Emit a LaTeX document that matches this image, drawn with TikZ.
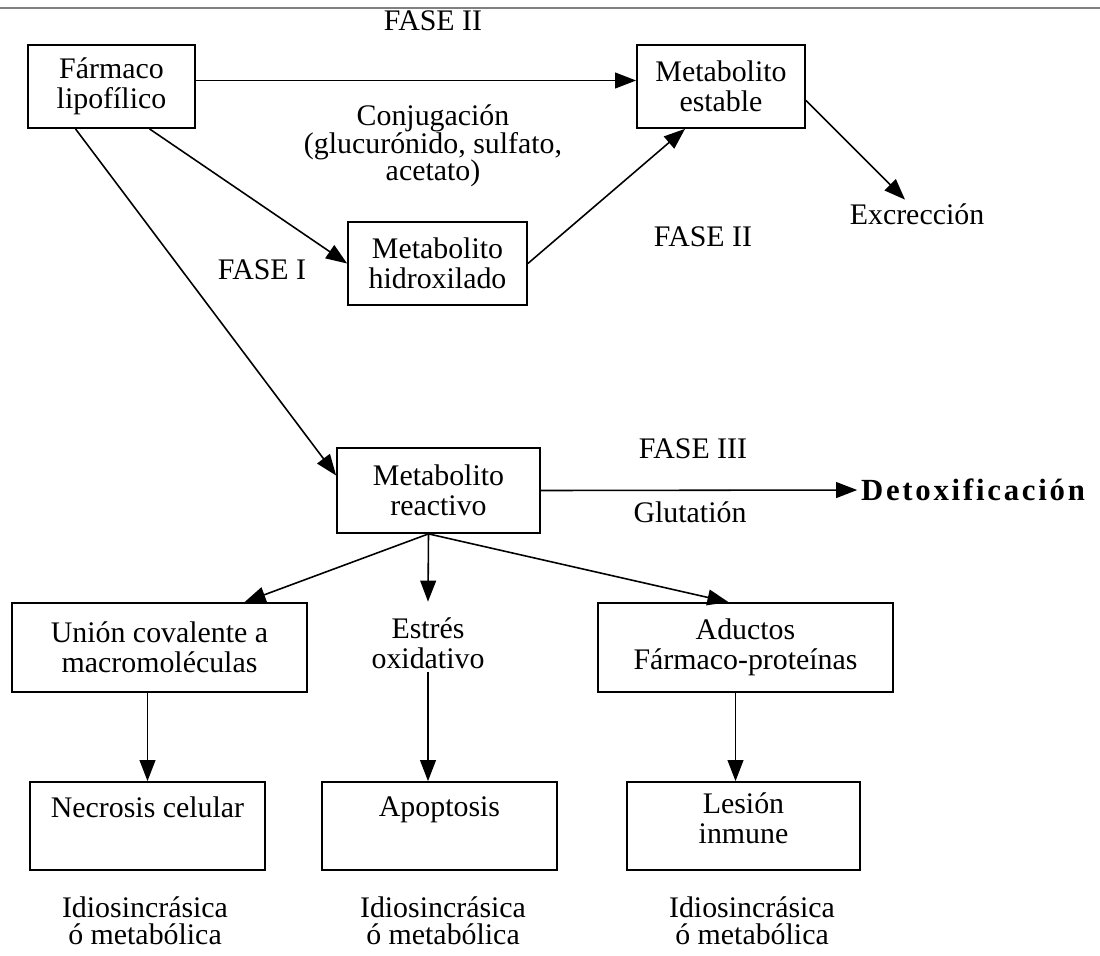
\documentclass[tikz,border=0pt]{standalone}
\usepackage{fontspec}
\setmainfont{Liberation Serif}
\usetikzlibrary{arrows.meta,positioning,calc}

\begin{document}
\begin{tikzpicture}[
    x=0.2mm, y=-0.2mm,
    font=\fontsize{17}{17}\selectfont,
    caja/.style={draw, line width=1pt, align=center, minimum height=16.6mm, inner sep=2pt},
    flecha/.style={-{Triangle[length=12pt,width=9pt]}, line width=0.9pt},
    texto/.style={align=center, inner sep=2pt}
]
\useasboundingbox (0,0) rectangle (1100,955);

% línea superior
\draw[gray, line width=1.2pt] (0,8) -- (1100,8);

% cajas
\node[caja, minimum width=33.4mm] (farmaco) at (111.5,86.5) {Fármaco\\lipofílico};
\node[caja, minimum width=33.6mm] (estable) at (721,86.5) {Metabolito\\estable};
\node[caja, minimum width=35.8mm] (hidroxilado) at (437.5,263.5) {Metabolito\\hidroxilado};
\node[caja, minimum width=40.6mm, minimum height=17mm] (reactivo) at (438.5,490.5) {Metabolito\\reactivo};
\node[caja, minimum width=59mm, minimum height=17.8mm] (union) at (159.5,647.5) {Unión covalente a\\macromoléculas};
\node[texto] (estres) at (428,643) {Estrés\\oxidativo};
\node[caja, minimum width=59mm, minimum height=17.8mm] (aductos) at (745.5,647.5) {Aductos\\Fármaco-proteínas};
\node[caja, minimum width=47mm, minimum height=17.6mm] (necrosis) at (147.5,826) {Necrosis celular\\[5pt]\mbox{}};
\node[caja, minimum width=47mm, minimum height=17.6mm] (apoptosis) at (439.5,826) {Apoptosis\\[5pt]\mbox{}};
\node[caja, minimum width=46.6mm, minimum height=17.6mm] (lesion) at (743.5,826) {Lesión\\inmune\\[-8pt]\mbox{}};

% etiquetas
\node[texto] (fase2a) at (433,21) {FASE II};
\node[texto, font=\fontsize{17}{15.8}\selectfont] (conjugacion) at (433,146) {Conjugación\\(glucurónido, sulfato,\\acetato)};
\node[texto] (fase1) at (262,270) {FASE I};
\node[texto] (fase2b) at (703,237) {FASE II};
\node[texto] (excrecion) at (917,214) {Excrección};
\node[texto] (fase3) at (693,449) {FASE III};
\node[texto] (glutation) at (690,512) {Glutatión};
\node[texto, font=\bfseries\fontsize{17.5}{17}\selectfont\addfontfeatures{LetterSpace=9}] (detox) at (973,490) {Detoxificación};
\node[texto, font=\fontsize{17}{15.5}\selectfont] (idio1) at (145,921) {Idiosincrásica\\ó metabólica};
\node[texto, font=\fontsize{17}{15.5}\selectfont] (idio2) at (443,921) {Idiosincrásica\\ó metabólica};
\node[texto, font=\fontsize{17}{15.5}\selectfont] (idio3) at (752,921) {Idiosincrásica\\ó metabólica};

% flechas superiores
\draw[flecha] ($(farmaco.east)+(0,-6)$) -- ($(estable.west)+(0,-6)$);
\draw[flecha] ($(farmaco.south)+(38,0)$) -- (hidroxilado.west);
\draw[flecha] (hidroxilado.east) -- ($(estable.south)+(-36,0)$);
\draw[flecha] ($(estable.east)+(0,14)$) -- ($(excrecion.north)+(-12,0)$);
\draw[flecha] ($(farmaco.south)+(-36,0)$) -- ($(reactivo.west)+(0,-15)$);
\draw[flecha] (reactivo.east) -- (detox.west);

% ramas del metabolito reactivo
\draw[flecha] ($(reactivo.south)+(-10,0)$) -- ($(union.north)+(85,0)$);
\draw[flecha] ($(reactivo.south)+(-10,0)$) -- ($(estres.north)+(0,-12)$);
\draw[flecha] ($(reactivo.south)+(-10,0)$) -- ($(aductos.north)+(-17,0)$);

% flechas verticales
\draw[flecha] (union.south -| necrosis.north) -- (necrosis.north);
\draw[flecha] (estres.south) -- (apoptosis.north -| estres.south);
\draw[flecha] ($(aductos.south)+(-10,0)$) -- ($(lesion.north)+(-8,0)$);

\end{tikzpicture}
\end{document}
